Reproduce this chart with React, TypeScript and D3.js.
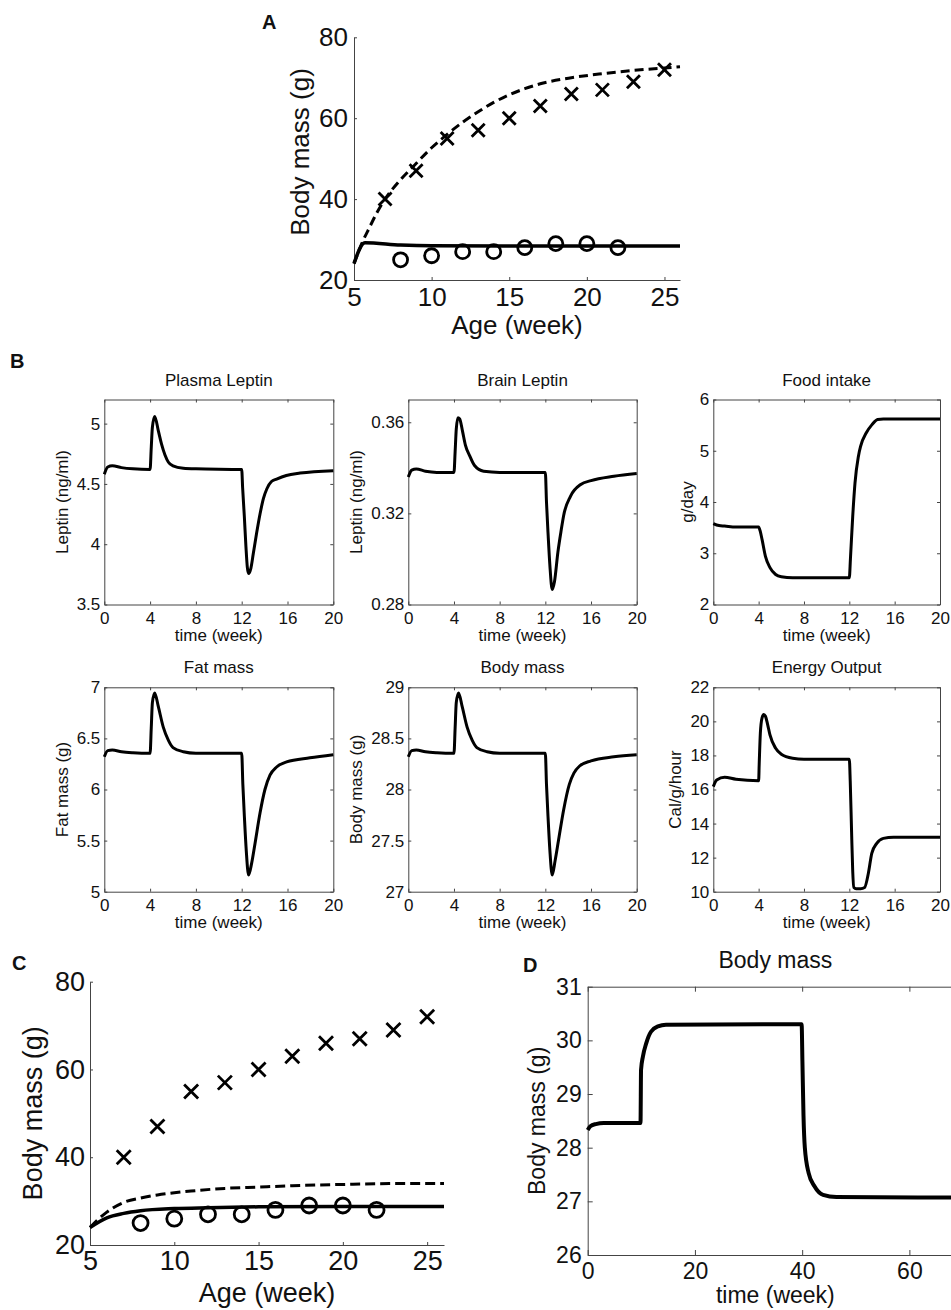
import React, { useRef, useEffect } from "react";
import * as d3 from "d3";

type Pt = [number, number];

// ---- observed body mass (panels A and C) ----
const obWeeks = [7, 9, 11, 13, 15, 17, 19, 21, 23, 25];
const obMass = [40, 47, 55, 57, 60, 63, 66, 67, 69, 72];
const wtWeeks = [8, 10, 12, 14, 16, 18, 20, 22];
const wtMass = [25, 26, 27, 27, 28, 29, 29, 28];

// ---- model curves, panel A ----
const modelAob: Pt[] = [
  [5, 24], [5.5, 29], [6, 33], [6.5, 36.8], [7, 40], [8, 44.8], [9, 48.8],
  [10, 52.7], [11, 56], [12, 59], [13, 61.6], [14, 63.9], [15, 65.8], [16, 67.3],
  [17, 68.5], [19, 70], [21, 71], [23, 71.8], [25, 72.4], [26, 72.7],
];
const modelAwt: Pt[] = [
  [5, 24.1], [5.7, 29.2], [8, 28.65], [10, 28.45], [15, 28.4], [20, 28.4], [26, 28.4],
];

// ---- model curves, panel C ----
const modelCob: Pt[] = [
  [5, 24], [6, 27.5], [7, 29.7], [8, 30.7], [9, 31.4], [10, 31.9], [11, 32.3],
  [13, 32.9], [15, 33.2], [17, 33.5], [20, 33.8], [23, 34], [26, 34],
];
const modelCwt: Pt[] = [
  [5, 24], [6, 26.2], [7, 27.2], [8, 27.8], [10, 28.3], [12, 28.5], [15, 28.7],
  [20, 28.8], [26, 28.8],
];

// ---- panel B time courses ----
const plasmaLeptin: Pt[] = [
  [0, 4.58], [0.3, 4.64], [0.7, 4.65], [1.5, 4.635], [2.5, 4.625], [4, 4.62],
  [4.1, 4.8], [4.2, 4.97], [4.4, 5.06], [4.72, 4.94], [5, 4.83], [5.3, 4.74],
  [5.6, 4.68], [6, 4.65], [6.9, 4.63], [8, 4.625], [12, 4.62],
  [12.08, 4.47], [12.23, 4.23], [12.37, 3.98], [12.49, 3.81], [12.6, 3.757],
  [12.8, 3.8], [13.01, 3.92], [13.3, 4.09], [13.6, 4.25], [13.9, 4.38],
  [14.2, 4.46], [14.6, 4.52], [15.05, 4.54], [15.9, 4.57], [17.1, 4.59], [20, 4.61],
];
const brainLeptin: Pt[] = [
  [0, 0.336], [0.3, 0.339], [0.7, 0.3395], [1.5, 0.3385], [2.5, 0.338], [4, 0.338],
  [4.1, 0.347], [4.2, 0.357], [4.35, 0.362], [4.5, 0.3615], [4.75, 0.356],
  [5, 0.35], [5.4, 0.345], [5.8, 0.341], [6.6, 0.3385], [8, 0.338], [12, 0.338],
  [12.1, 0.325], [12.25, 0.31], [12.4, 0.297], [12.6, 0.2866], [12.8, 0.29],
  [13.1, 0.303], [13.4, 0.313], [13.6, 0.319], [14.2, 0.3275], [15.1, 0.3327],
  [16, 0.3344], [18, 0.3363], [20, 0.3375],
];
const foodIntake: Pt[] = [
  [0, 3.58], [0.5, 3.54], [1, 3.53], [2, 3.51], [4, 3.51], [4.15, 3.42],
  [4.3, 3.27], [4.6, 2.94], [5, 2.72], [5.5, 2.585], [6, 2.54], [7, 2.52],
  [12, 2.52], [12.1, 2.9], [12.3, 3.72], [12.5, 4.37], [12.8, 4.89], [13, 5.09],
  [13.5, 5.35], [14, 5.51], [14.5, 5.61], [15, 5.62], [20, 5.62],
];
const fatMass: Pt[] = [
  [0, 6.32], [0.3, 6.38], [0.7, 6.386], [1.5, 6.37], [2.5, 6.36], [4, 6.354],
  [4.1, 6.6], [4.2, 6.85], [4.4, 6.945], [4.72, 6.81], [5.15, 6.61], [5.6, 6.48],
  [6, 6.41], [6.9, 6.37], [8, 6.355], [12, 6.354], [12.1, 6.05], [12.25, 5.7],
  [12.4, 5.4], [12.6, 5.163], [12.87, 5.28], [13.16, 5.47], [13.6, 5.77],
  [14.03, 6.0], [14.47, 6.14], [15.05, 6.22], [15.92, 6.27], [17.96, 6.31], [20, 6.34],
];
const bodyMassB: Pt[] = [
  [0, 28.32], [0.3, 28.38], [0.7, 28.386], [1.5, 28.37], [2.5, 28.36], [4, 28.354],
  [4.1, 28.6], [4.2, 28.85], [4.4, 28.945], [4.72, 28.81], [5.15, 28.61], [5.6, 28.48],
  [6, 28.41], [6.9, 28.37], [8, 28.355], [12, 28.354], [12.1, 28.05], [12.25, 27.7],
  [12.4, 27.4], [12.6, 27.163], [12.85, 27.3], [13.15, 27.5], [13.6, 27.8],
  [14.1, 28.05], [14.5, 28.16], [15, 28.23], [16, 28.28], [18, 28.32], [20, 28.34],
];
const energyOutput: Pt[] = [
  [0, 16.17], [0.3, 16.56], [1, 16.72], [2, 16.6], [4, 16.52], [4.05, 17.5],
  [4.15, 19.3], [4.3, 20.2], [4.45, 20.4], [4.6, 20.3], [4.8, 19.8], [5, 19.2],
  [5.5, 18.42], [6, 18.07], [7, 17.83], [8, 17.77], [12, 17.77], [12.08, 16.5],
  [12.2, 13.5], [12.3, 11.2], [12.4, 10.25], [12.6, 10.18], [13, 10.18],
  [13.35, 10.25], [13.68, 11.08], [13.98, 12.25], [14.42, 12.84], [15, 13.13],
  [15.9, 13.2], [20, 13.2],
];

// ---- panel D ----
const bodyMassD: Pt[] = [
  [0, 28.33], [0.5, 28.4], [1.5, 28.44], [3, 28.46], [9.85, 28.46], [9.95, 29.45],
  [10.3, 29.7], [10.9, 29.94], [11.8, 30.16], [13.1, 30.26], [14.6, 30.29],
  [39.9, 30.3], [40.05, 29.6], [40.25, 28.6], [40.5, 28.0], [41.2, 27.53],
  [42.3, 27.28], [43.9, 27.12], [46.4, 27.08], [70, 27.07],
];

// ---- tick values ----
const ageTicks = [5, 10, 15, 20, 25];
const massTicksAC = [20, 40, 60, 80];
const weekTicksB = [0, 4, 8, 12, 16, 20];
const plasmaTicks = [3.5, 4, 4.5, 5];
const brainTicks = [0.28, 0.32, 0.36];
const foodTicks = [2, 3, 4, 5, 6];
const fatTicks = [5, 5.5, 6, 6.5, 7];
const bodyTicksB = [27, 27.5, 28, 28.5, 29];
const energyTicks = [10, 12, 14, 16, 18, 20, 22];
const weekTicksD = [0, 20, 40, 60];
const massTicksD = [26, 27, 28, 29, 30, 31];

const FONT = "'Liberation Sans', Arial, Helvetica, sans-serif";
const INK = "#111";
const AXIS = "#444";

type Panel = {
  left: number; top: number; right: number; bottom: number;
  xDomain: [number, number]; yDomain: [number, number];
  xTicks: number[]; yTicks: number[];
  box: boolean; font: number; tick: number; xPad: number; yPad: number;
  title?: string; titleY?: number;
  xLabel: string; xLabelY: number;
  yLabel: string; yLabelX: number; yLabelY?: number;
};

type Sel = d3.Selection<SVGSVGElement, unknown, null, undefined>;

function drawPanel(svg: Sel, c: Panel) {
  const x = d3.scaleLinear().domain(c.xDomain).range([c.left, c.right]);
  const y = d3.scaleLinear().domain(c.yDomain).range([c.bottom, c.top]);
  const g = svg.append("g");

  const style = (sel: any) => {
    sel.attr("font-size", null).attr("font-family", null);
    sel.select(".domain").attr("stroke", AXIS).attr("stroke-width", 1);
    sel.selectAll(".tick line").attr("stroke", AXIS);
    sel.selectAll("text").attr("fill", INK).style("font-size", `${c.font}px`).style("font-family", FONT);
  };

  g.append("g")
    .attr("transform", `translate(0,${c.bottom})`)
    .call(d3.axisBottom(x).tickValues(c.xTicks).tickFormat((d) => String(d))
      .tickSize(-c.tick).tickSizeOuter(0).tickPadding(c.xPad))
    .call(style);
  g.append("g")
    .attr("transform", `translate(${c.left},0)`)
    .call(d3.axisLeft(y).tickValues(c.yTicks).tickFormat((d) => String(d))
      .tickSize(-c.tick).tickSizeOuter(0).tickPadding(c.yPad))
    .call(style);

  if (c.box) {
    g.append("g")
      .attr("transform", `translate(0,${c.top})`)
      .call(d3.axisTop(x).tickValues(c.xTicks).tickFormat(() => "").tickSize(-c.tick).tickSizeOuter(0))
      .call(style);
    g.append("g")
      .attr("transform", `translate(${c.right},0)`)
      .call(d3.axisRight(y).tickValues(c.yTicks).tickFormat(() => "").tickSize(-c.tick).tickSizeOuter(0))
      .call(style);
  }

  const cx = (c.left + c.right) / 2;
  if (c.title) {
    g.append("text").attr("x", cx).attr("y", c.titleY!).attr("text-anchor", "middle")
      .style("font-size", `${c.font}px`).style("font-family", FONT).attr("fill", INK).text(c.title);
  }
  g.append("text").attr("x", cx).attr("y", c.xLabelY).attr("text-anchor", "middle")
    .style("font-size", `${c.font}px`).style("font-family", FONT).attr("fill", INK).text(c.xLabel);
  const ly = c.yLabelY ?? (c.top + c.bottom) / 2;
  g.append("text").attr("transform", `translate(${c.yLabelX},${ly}) rotate(-90)`)
    .attr("text-anchor", "middle")
    .style("font-size", `${c.font}px`).style("font-family", FONT).attr("fill", INK).text(c.yLabel);

  return { x, y, g };
}

function drawLine(p: { x: any; y: any; g: any }, data: Pt[], width: number, dash?: string) {
  const line = d3.line<Pt>().x((d) => p.x(d[0])).y((d) => p.y(d[1])).curve(d3.curveMonotoneX);
  p.g.append("path").datum(data).attr("d", line).attr("fill", "none")
    .attr("stroke", "#000").attr("stroke-width", width)
    .attr("stroke-linejoin", "round")
    .attr("stroke-dasharray", dash ?? null);
}

function drawMarkers(p: { x: any; y: any; g: any }, h: number, r: number) {
  const crosses = obWeeks.map((w, i) => [w, obMass[i]] as Pt);
  p.g.selectAll(null).data(crosses).join("path")
    .attr("d", (d: Pt) => {
      const px = p.x(d[0]), py = p.y(d[1]);
      return `M${px - h},${py - h}L${px + h},${py + h}M${px - h},${py + h}L${px + h},${py - h}`;
    })
    .attr("stroke", "#000").attr("stroke-width", 2.8).attr("fill", "none");
  const circles = wtWeeks.map((w, i) => [w, wtMass[i]] as Pt);
  p.g.selectAll(null).data(circles).join("circle")
    .attr("cx", (d: Pt) => p.x(d[0])).attr("cy", (d: Pt) => p.y(d[1])).attr("r", r)
    .attr("fill", "none").attr("stroke", "#000").attr("stroke-width", 2.8);
}

function letter(svg: Sel, t: string, x: number, y: number) {
  svg.append("text").attr("x", x).attr("y", y).style("font-size", "20px")
    .style("font-family", FONT).style("font-weight", "bold").attr("fill", INK).text(t);
}

const App: React.FC = () => {
  const svgRef = useRef<SVGSVGElement | null>(null);

  useEffect(() => {
    document.body.style.margin = "0";
    const svg = d3.select(svgRef.current!) as Sel;
    svg.selectAll("*").remove();

    // ===== A =====
    const a = drawPanel(svg, {
      left: 354, right: 680, top: 37.3, bottom: 280,
      xDomain: [5, 26], yDomain: [20, 80], xTicks: ageTicks, yTicks: massTicksAC,
      box: false, font: 26, tick: 3, xPad: 8, yPad: 6,
      xLabel: "Age (week)", xLabelY: 334, yLabel: "Body mass (g)", yLabelX: 309, yLabelY: 152,
    });
    drawLine(a, modelAob, 3, "9,5");
    drawLine(a, modelAwt, 3.5);
    drawMarkers(a, 6.5, 7);
    letter(svg, "A", 262, 29);

    // ===== B =====
    const colL = [104.3, 408.3, 713.3];
    const colR = [333.3, 636.7, 940];
    const rowT = [399.5, 687.3];
    const rowB = [604.5, 891.7];
    const bBase = { box: true, font: 17, tick: 3, xPad: 7, yPad: 4, xTicks: weekTicksB, xDomain: [0, 20] as [number, number], xLabel: "time (week)" };
    const bPanels: { data: Pt[]; yDomain: [number, number]; yTicks: number[]; title: string; yLabel: string; yLabelX: number; col: number; row: number }[] = [
      { data: plasmaLeptin, yDomain: [3.5, 5.2], yTicks: plasmaTicks, title: "Plasma Leptin", yLabel: "Leptin (ng/ml)", yLabelX: 68, col: 0, row: 0 },
      { data: brainLeptin, yDomain: [0.28, 0.37], yTicks: brainTicks, title: "Brain Leptin", yLabel: "Leptin (ng/ml)", yLabelX: 362, col: 1, row: 0 },
      { data: foodIntake, yDomain: [2, 6], yTicks: foodTicks, title: "Food intake", yLabel: "g/day", yLabelX: 693, col: 2, row: 0 },
      { data: fatMass, yDomain: [5, 7], yTicks: fatTicks, title: "Fat mass", yLabel: "Fat mass (g)", yLabelX: 68, col: 0, row: 1 },
      { data: bodyMassB, yDomain: [27, 29], yTicks: bodyTicksB, title: "Body mass", yLabel: "Body mass (g)", yLabelX: 362, col: 1, row: 1 },
      { data: energyOutput, yDomain: [10, 22], yTicks: energyTicks, title: "Energy Output", yLabel: "Cal/g/hour", yLabelX: 681, col: 2, row: 1 },
    ];
    bPanels.forEach((b) => {
      const p = drawPanel(svg, {
        ...bBase,
        left: colL[b.col], right: colR[b.col], top: rowT[b.row], bottom: rowB[b.row],
        yDomain: b.yDomain, yTicks: b.yTicks, title: b.title,
        titleY: rowT[b.row] - 14, xLabelY: rowB[b.row] + 36, yLabel: b.yLabel, yLabelX: b.yLabelX,
      });
      drawLine(p, b.data, 3);
    });
    letter(svg, "B", 10, 368);

    // ===== C =====
    const c = drawPanel(svg, {
      left: 90, right: 444, top: 981.7, bottom: 1245,
      xDomain: [5, 26], yDomain: [20, 80], xTicks: ageTicks, yTicks: massTicksAC,
      box: false, font: 27, tick: 3, xPad: 6, yPad: 5,
      xLabel: "Age (week)", xLabelY: 1302, yLabel: "Body mass (g)", yLabelX: 42,
    });
    drawLine(c, modelCob, 3, "10,5");
    drawLine(c, modelCwt, 3.5);
    drawMarkers(c, 7, 7.5);
    letter(svg, "C", 12, 970);

    // ===== D =====
    const dd = drawPanel(svg, {
      left: 587.7, right: 963, top: 986.7, bottom: 1255,
      xDomain: [0, 70], yDomain: [26, 31], xTicks: weekTicksD, yTicks: massTicksD,
      box: true, font: 23, tick: 5, xPad: 8, yPad: 6,
      title: "Body mass", titleY: 968,
      xLabel: "time (week)", xLabelY: 1303, yLabel: "Body mass (g)", yLabelX: 545,
    });
    drawLine(dd, bodyMassD, 4);
    letter(svg, "D", 523, 971.7);
  }, []);

  return (
    <svg ref={svgRef} width={951} height={1310} style={{ display: "block", background: "#fff" }} />
  );
};

export default App;
